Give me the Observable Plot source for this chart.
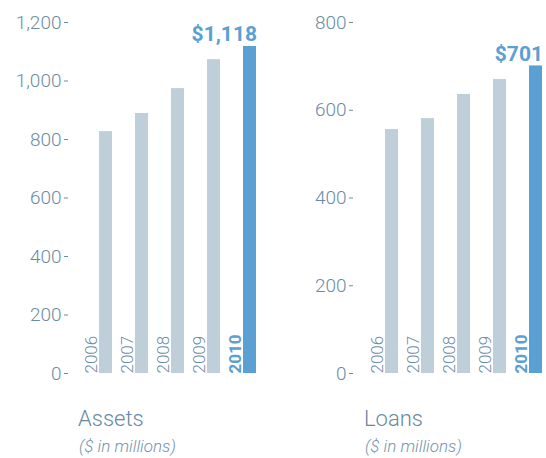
<!DOCTYPE html>
<html><head><meta charset="utf-8">
<script src="https://cdn.jsdelivr.net/npm/d3@7"></script>
<script src="https://cdn.jsdelivr.net/npm/@observablehq/plot@0.6"></script>
<style>
body{margin:0;background:#fff;font-family:Roboto,sans-serif;}
#wrap{position:relative;width:546px;height:458px;overflow:hidden;}
.panel{position:absolute;top:0;}
.title{position:absolute;color:#6788a3;font-size:22px;font-weight:300;line-height:1;}
.sub{position:absolute;color:#7493ad;font-size:17px;font-weight:300;font-style:italic;line-height:1;}
</style></head><body>
<div id="wrap"></div>
<script>
const years = ["2006","2007","2008","2009","2010"];
const assets = [827, 889, 974, 1073, 1118];
const loans = [556, 581, 636, 670, 701];
const assetTicks = [0,200,400,600,800,1000,1200];
const loanTicks = [0,200,400,600,800];
const assetLabel = "$1,118";
const loanLabel = "$701";

const gray = "#bfcfd9", blue = "#5aa0d3", txt = "#6a8ba6";
const H = 385;

function panel(values, ticks, maxY, label, mLeft, mRight, axisDx) {
  const data = years.map((y,i)=>({year:y, value:values[i]}));
  const prev = data.slice(0, -1);
  const last = data.slice(-1);
  return Plot.plot({
    width: 273, height: H,
    marginTop: 22, marginBottom: H-373, marginLeft: mLeft, marginRight: mRight,
    style: {fontFamily: 'Roboto,sans-serif', background: "transparent", overflow: "visible"},
    x: {domain: years, paddingInner: 0.64, paddingOuter: 0, axis: null},
    y: {domain: [0, maxY], axis: null},
    marks: [
      Plot.barY(prev, {x:"year", y:"value", fill: gray}),
      Plot.barY(last, {x:"year", y:"value", fill: blue}),
      Plot.axisY({ticks: ticks, tickSize: 4, tickPadding: 3, dx: axisDx, fontSize: 19, fontWeight: 300, color: txt, stroke: txt, label: null}),
      Plot.text(prev, {x:"year", y:0, text:"year", rotate:-90, textAnchor:"start", lineAnchor:"bottom",
        dx:-9, fontSize:17, fontWeight:300, fill: txt}),
      Plot.text(last, {x:"year", y:0, text:"year", rotate:-90, textAnchor:"start", lineAnchor:"bottom",
        dx:-9, fontSize:17, fontWeight:"bold", fill: blue}),
      Plot.text(last, {x:"year", y:"value", text: ()=>label, textAnchor:"end", lineAnchor:"bottom",
        dx: 7, dy: -5, fontSize: 21, fontWeight: "bold", fill: blue})
    ]
  });
}

const wrap = document.getElementById("wrap");
const p1 = panel(assets, assetTicks, 1200, assetLabel, 98, 17, -30);
const p2 = panel(loans, loanTicks, 800, loanLabel, 111, 4, -31);
const d1 = document.createElement("div"); d1.className="panel"; d1.style.left="0px"; d1.appendChild(p1);
const d2 = document.createElement("div"); d2.className="panel"; d2.style.left="273px"; d2.appendChild(p2);
wrap.appendChild(d1); wrap.appendChild(d2);

function addText(cls, text, left, top){
  const e=document.createElement("div"); e.className=cls; e.textContent=text;
  e.style.left=left+"px"; e.style.top=top+"px"; wrap.appendChild(e);
}
addText("title","Assets",78,408);
addText("sub","($ in millions)",79,438);
addText("title","Loans",364,408);
addText("sub","($ in millions)",365,438);
</script>
</body></html>
